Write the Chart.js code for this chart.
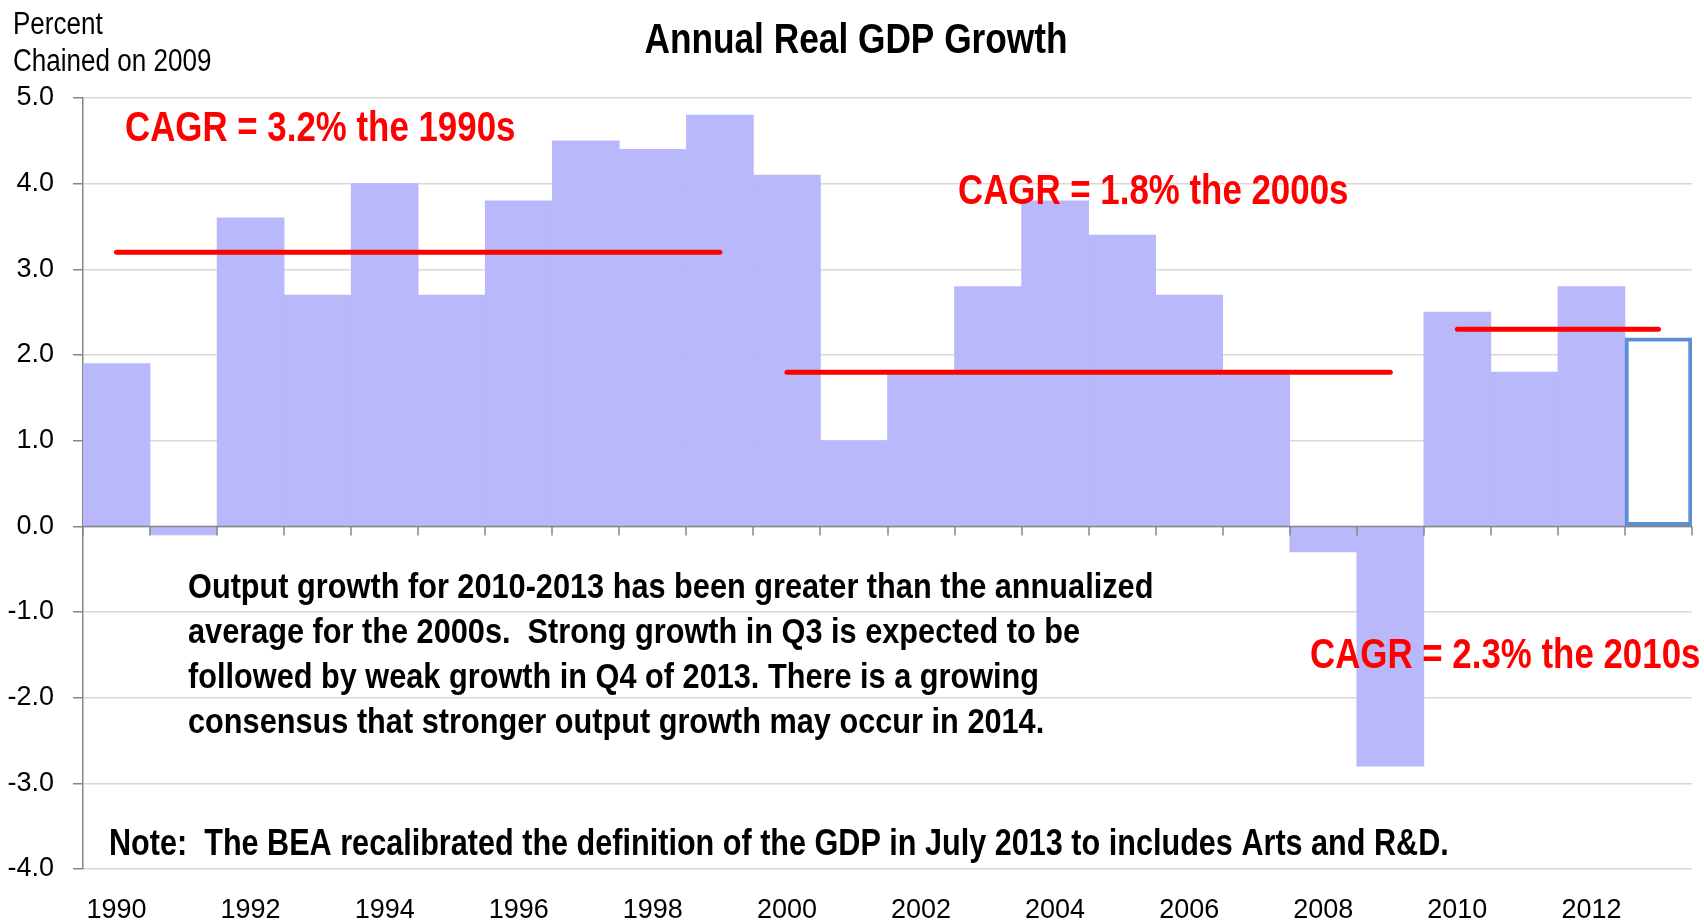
<!DOCTYPE html>
<html>
<head>
<meta charset="utf-8">
<script src="https://cdn.jsdelivr.net/npm/chart.js@4.4.1/dist/chart.umd.min.js"></script>
<style>
  html, body { margin: 0; padding: 0; background: #ffffff; }
  #wrap { position: relative; width: 1704px; height: 923px; }
</style>
</head>
<body>
<div id="wrap"><canvas id="c"></canvas></div>
<script>
// ---------------- data ----------------
const years = ['1990','1991','1992','1993','1994','1995','1996','1997','1998','1999',
               '2000','2001','2002','2003','2004','2005','2006','2007','2008','2009',
               '2010','2011','2012','2013'];
const growth = [1.9, -0.1, 3.6, 2.7, 4.0, 2.7, 3.8, 4.5, 4.4, 4.8,
                4.1, 1.0, 1.8, 2.8, 3.8, 3.4, 2.7, 1.8, -0.3, -2.8,
                2.5, 1.8, 2.8, 2.2];
const estimateYear = '2013';
const cagrStart = ['1990', '2000', '2010'];
const cagrEnd   = ['1999', '2009', '2013'];
const cagrValue = [3.2, 1.8, 2.3];
const yMin = -4, yMax = 5, yStep = 1;

const titleText = 'Annual Real GDP Growth';
const unitLines = ['Percent', 'Chained on 2009'];
const cagrLabels = ['CAGR = 3.2% the 1990s', 'CAGR = 1.8% the 2000s', 'CAGR = 2.3% the 2010s'];
const commentLines = [
  'Output growth for 2010-2013 has been greater than the annualized',
  'average for the 2000s.  Strong growth in Q3 is expected to be',
  'followed by weak growth in Q4 of 2013. There is a growing',
  'consensus that stronger output growth may occur in 2014.'
];
const noteText = 'Note:  The BEA recalibrated the definition of the GDP in July 2013 to includes Arts and R&D.';

// ---------------- fonts ----------------
function hasFont(name) {
  const ctx = document.createElement('canvas').getContext('2d');
  const t = 'abcdefghijklmnopqrstuvwxyzABCDEFGH0123456789';
  let diff = false;
  ['monospace', 'serif'].forEach(fb => {
    ctx.font = '40px ' + fb; const a = ctx.measureText(t).width;
    ctx.font = '40px "' + name + '", ' + fb; const b = ctx.measureText(t).width;
    if (Math.abs(a - b) > 0.5) diff = true;
  });
  return diff;
}
const narrowOK = hasFont('Liberation Sans Narrow');
const FAMILY = narrowOK ? '"Liberation Sans Narrow", "Arial Narrow", sans-serif'
                        : '"Liberation Sans", Arial, sans-serif';
const K = narrowOK ? 1 / 0.82 : 1;   // horizontal factor correction if narrow font exists
const tickSize = narrowOK ? 30 : 27;

// ---------------- colours ----------------
const BAR = '#B8B8FA';
const EST_BORDER = '#5B8ED6';
const RED = '#FF0000';
const GRID = '#D9D9D9';
const AXIS = '#868686';

// ---------------- annotation layout (pixels) ----------------
const layoutText = {
  unit:    { x: 13, y: [34, 71], size: 31, sx: 0.84 },
  title:   { x: 856, y: 53, size: 43, sx: 0.82 },
  cagr:    { x: [125, 958, 1310], y: [141, 204, 668], size: 42, sx: 0.83 },
  comment: { x: 188, y: [598, 643, 688, 733], size: 35, sx: 0.877 },
  note:    { x: 109, y: 855, size: 36, sx: 0.85 }
};

function drawText(ctx, text, x, y, size, sx, bold, color, align) {
  ctx.save();
  ctx.font = (bold ? 'bold ' : '') + size + 'px ' + FAMILY;
  ctx.fillStyle = color;
  ctx.textBaseline = 'alphabetic';
  ctx.textAlign = align || 'left';
  ctx.translate(x, y);
  ctx.scale(Math.min(1, sx * K), 1);
  ctx.fillText(text, 0, 0);
  ctx.restore();
}

const zeroAxisPlugin = {
  id: 'zeroAxis',
  afterDatasetsDraw(chart) {
    const ctx = chart.ctx, xs = chart.scales.x, ys = chart.scales.y, ca = chart.chartArea;
    const y0 = Math.round(ys.getPixelForValue(0)) + 0.5;
    const w = xs.getPixelForValue(1) - xs.getPixelForValue(0);
    ctx.save();
    ctx.strokeStyle = AXIS;
    ctx.lineWidth = 1.5;
    ctx.beginPath();
    ctx.moveTo(ca.left, y0);
    ctx.lineTo(ca.right, y0);
    for (let i = 0; i <= years.length; i++) {
      const x = Math.round(xs.getPixelForValue(0) - w / 2 + i * w);
      ctx.moveTo(x, y0);
      ctx.lineTo(x, y0 + 9);
    }
    ctx.stroke();
    ctx.restore();
  }
};

const textPlugin = {
  id: 'texts',
  afterDraw(chart) {
    const ctx = chart.ctx;
    const L = layoutText;
    unitLines.forEach((t, i) => drawText(ctx, t, L.unit.x, L.unit.y[i], L.unit.size, L.unit.sx, false, '#000'));
    drawText(ctx, titleText, L.title.x, L.title.y, L.title.size, L.title.sx, true, '#000', 'center');
    cagrLabels.forEach((t, i) => drawText(ctx, t, L.cagr.x[i], L.cagr.y[i], L.cagr.size, L.cagr.sx, true, RED));
    commentLines.forEach((t, i) => drawText(ctx, t, L.comment.x, L.comment.y[i], L.comment.size, L.comment.sx, true, '#000'));
    drawText(ctx, noteText, L.note.x, L.note.y, L.note.size, L.note.sx, true, '#000');
  }
};

// ---------------- datasets ----------------
const barBg = years.map(y => y === estimateYear ? '#FFFFFF' : BAR);
const barBorder = years.map(y => y === estimateYear ? EST_BORDER : BAR);
const barBorderW = years.map(y => y === estimateYear ? 4 : 0);

const datasets = [{
  type: 'bar',
  label: 'Real GDP growth',
  data: growth,
  backgroundColor: barBg,
  borderColor: barBorder,
  borderWidth: barBorderW,
  borderSkipped: false,
  categoryPercentage: 1.0,
  barPercentage: 1.0,
  order: 2
}];
cagrValue.forEach((v, i) => {
  datasets.push({
    type: 'line',
    label: cagrLabels[i],
    data: [{ x: cagrStart[i], y: v }, { x: cagrEnd[i], y: v }],
    borderColor: RED,
    borderWidth: 5,
    borderCapStyle: 'round',
    pointRadius: 0,
    fill: false,
    order: 1
  });
});

new Chart(document.getElementById('c'), {
  type: 'bar',
  data: { labels: years, datasets },
  options: {
    responsive: true,
    maintainAspectRatio: false,
    animation: false,
    devicePixelRatio: 1,
    layout: { padding: { top: 98, right: 12, left: 0, bottom: 0 } },
    plugins: { legend: { display: false }, tooltip: { enabled: false }, title: { display: false } },
    scales: {
      x: {
        type: 'category',
        offset: true,
        grid: { display: false, offset: true },
        border: { display: false },
        ticks: {
          autoSkip: false,
          maxRotation: 0,
          minRotation: 0,
          padding: 17,
          color: '#000',
          font: { family: FAMILY, size: tickSize },
          callback: (v, i) => (i % 2 === 0 ? years[i] : '')
        },
        afterFit: s => { s.height = 54; }
      },
      y: {
        min: yMin,
        max: yMax,
        ticks: {
          stepSize: yStep,
          padding: 19,
          color: '#000',
          font: { family: FAMILY, size: tickSize },
          callback: v => Number(v).toFixed(1)
        },
        grid: { color: GRID, lineWidth: 1.5, tickColor: AXIS, tickLength: 10, drawTicks: true },
        border: { display: true, color: AXIS, width: 1.5 },
        afterFit: s => { s.width = 83; }
      }
    }
  },
  plugins: [zeroAxisPlugin, textPlugin]
});
</script>
</body>
</html>
